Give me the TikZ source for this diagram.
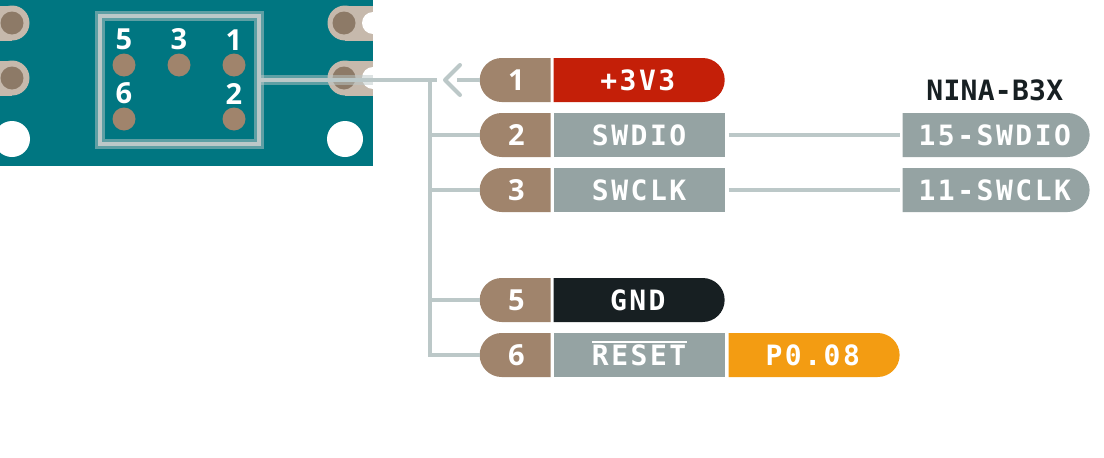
\documentclass[tikz,border=0pt]{standalone}
\usepackage{fontspec}
\usetikzlibrary{positioning,shapes.misc}
\newfontfamily\labelfont[LetterSpace=9]{DejaVu Sans Mono}
\newfontfamily\headfont[LetterSpace=1]{DejaVu Sans Mono}
\newfontfamily\numfont{Open Sans}
\definecolor{boardteal}{HTML}{007681}
\definecolor{padlight}{HTML}{C6B9AC}
\definecolor{paddark}{HTML}{8D7A67}
\definecolor{pinbrown}{HTML}{A0846C}
\definecolor{wiregray}{HTML}{BCC8C8}
\definecolor{fngray}{HTML}{95A3A3}
\definecolor{fnred}{HTML}{C41F08}
\definecolor{fnblack}{HTML}{171F22}
\definecolor{fnorange}{HTML}{F39C12}
\tikzset{
  wire/.style={draw=wiregray,line width=4pt},
  labelbase/.style={inner sep=0pt,outer sep=0pt,minimum height=44pt,text=white,
    font=\fontsize{28}{28}\selectfont\labelfont\bfseries},
  pinnum/.style={labelbase,rounded rectangle,rounded rectangle east arc=none,
    minimum width=71pt,fill=pinbrown,font=\fontsize{29}{29}\selectfont\numfont\bfseries},
  fnsquare/.style={labelbase,rectangle,minimum width=171pt,fill=#1},
  fnround/.style={labelbase,rounded rectangle,rounded rectangle west arc=none,minimum width=#1},
  hole/.style={circle,fill=white,minimum size=36pt,inner sep=0pt},
  outerpad/.style={circle,fill=padlight,minimum size=35pt,inner sep=0pt},
  innerpad/.style={circle,fill=paddark,minimum size=23pt,inner sep=0pt},
  headerpin/.style={circle,fill=pinbrown,minimum size=23pt,inner sep=0pt},
  pinmark/.style={text=white,inner sep=0pt,font=\fontsize{29}{29}\selectfont\numfont\bfseries}
}
\begin{document}
\begin{tikzpicture}[x=1pt,y=-1pt]
  \useasboundingbox (0,0) rectangle (1104,458);
  % board
  \begin{scope}
    \clip (0,0) rectangle (373,166);
    \fill[boardteal] (0,0) rectangle (373,166);
    \foreach \py/\pname in {23/a,78/b}{
      \fill[padlight] (0,\py-17.5) rectangle (12,\py+17.5);
      \node[outerpad] (padl\pname) at (12,\py) {};
      \node[innerpad] at (12,\py) {};
      \fill[padlight] (345,\py-17.5) rectangle (373,\py+17.5);
      \node[outerpad] (padr\pname) at (345,\py) {};
      \node[innerpad] at (344,\py) {};
      \node[circle,fill=white,minimum size=22pt,inner sep=0pt] at (373,\py) {};
    }
    \node[hole] (holel) at (12,139) {};
    \node[hole] (holer) at (345,139) {};
    % connector outline
    \draw[wire,opacity=.5,line width=10pt] (100,16) rectangle (259,144);
    \draw[wire,opacity=.5,line width=10pt] (259,80) -- (373,80);
  \end{scope}
  \draw[wire] (100,16) rectangle (259,144);
  \node[headerpin] (h5) at (124,65) {};
  \node[headerpin] (h3) at (179,65) {};
  \node[headerpin] (h1) at (234,65) {};
  \node[headerpin] (h6) at (124,119) {};
  \node[headerpin] (h2) at (234,119) {};
  \foreach \hname/\hnum in {h5/5,h3/3,h1/1,h6/6,h2/2}
    \node[pinmark,above=3pt of \hname] {\hnum};
  % pin rows
  \node[pinnum] (p1) at (516.5,80) {1};
  \node[pinnum,below=11pt of p1] (p2) {2};
  \node[pinnum,below=11pt of p2] (p3) {3};
  \node[pinnum,below=66pt of p3] (p5) {5};
  \node[pinnum,below=11pt of p5] (p6) {6};
  \node[fnround=171pt,fill=fnred,right=3pt of p1] (f1) {+3V3};
  \node[fnsquare=fngray,right=3pt of p2] (f2) {SWDIO};
  \node[fnsquare=fngray,right=3pt of p3] (f3) {SWCLK};
  \node[fnround=171pt,fill=fnblack,right=3pt of p5] (f5) {GND};
  \node[fnsquare=fngray,right=3pt of p6] (f6) {\smash{\rlap{\rule[22pt]{95pt}{2.5pt}}}RESET};
  \node[fnround=171pt,fill=fnorange,right=4pt of f6] (x6) {P0.08};
  \node[fnround=187pt,fill=fngray,right=178pt of f2] (n15) {15-SWDIO};
  \node[fnround=187pt,fill=fngray,right=178pt of f3] (n11) {11-SWCLK};
  \node[above=12pt of n15,inner sep=0pt,text=fnblack,
    font=\fontsize{28}{28}\selectfont\headfont\bfseries] (nina) {NINA-B3X};
  % wires
  \coordinate (bustop) at (430,80);
  \coordinate (hdr) at (259,80);
  \coordinate (busend) at (437,80);
  \coordinate (arrtip) at (445,80);
  \coordinate (arrup) at (460,65);
  \coordinate (arrdn) at (460,95);
  \coordinate (arrtail) at (457,80);
  \draw[wire] (hdr) -- (busend);
  \draw[wire] (p6.west) -| (bustop);
  \draw[wire] (p2.west) -- (p2.west -| bustop);
  \draw[wire] (p3.west) -- (p3.west -| bustop);
  \draw[wire] (p5.west) -- (p5.west -| bustop);
  \draw[wire] (p1.west) -- (arrtail);
  \draw[wire,line cap=round,line join=round] (arrup) -- (arrtip) -- (arrdn);
  \draw[wire] ([xshift=4pt]f2.east) -- ([xshift=-3pt]n15.west);
  \draw[wire] ([xshift=4pt]f3.east) -- ([xshift=-3pt]n11.west);
\end{tikzpicture}
\end{document}
